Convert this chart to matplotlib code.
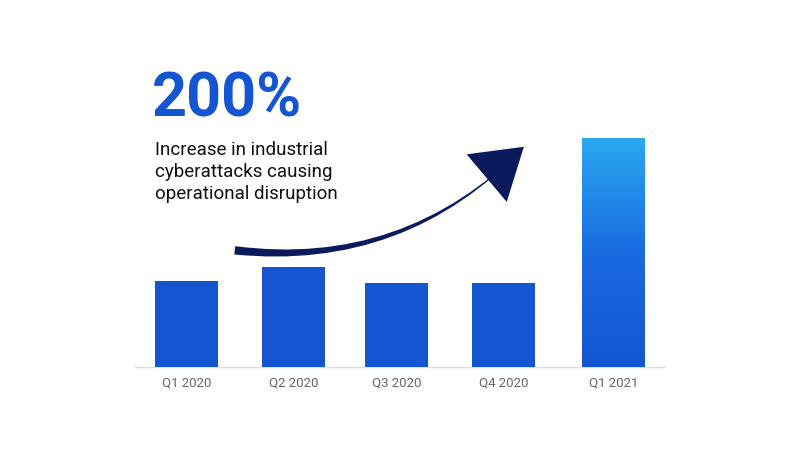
import matplotlib
matplotlib.use("Agg")
import matplotlib.pyplot as plt
import numpy as np
from matplotlib.patches import FancyArrowPatch

categories = ["Q1 2020", "Q2 2020", "Q3 2020", "Q4 2020", "Q1 2021"]
values = [86, 100, 84, 84, 229]

fig = plt.figure(figsize=(8, 4.56), dpi=100)
ax = fig.add_axes([0, 0, 1, 1])
ax.set_xlim(0, 800)
ax.set_ylim(456, 0)
ax.axis("off")

base = 368
xs = [186.5, 293.5, 396.5, 503.5, 613.5]
w = 63
bars = ax.bar(xs, [-v for v in values], bottom=base, width=w, color="#1456d2", zorder=2)
# gradient on last bar
last = bars[-1]
grad = np.linspace(0, 1, 256).reshape(-1, 1)
from matplotlib.colors import LinearSegmentedColormap
cmap = LinearSegmentedColormap.from_list("g", ["#2aa8f0", "#1a6ae0", "#1456d2"])
im = ax.imshow(grad, cmap=cmap, aspect="auto",
               extent=[xs[-1] - w / 2, xs[-1] + w / 2, base, base - values[-1]], zorder=3)
im.set_clip_path(last)
ax.set_xlim(0, 800); ax.set_ylim(456, 0)

ax.plot([135, 665], [base, base], color="#dddddd", lw=1, zorder=1)
for x, c in zip(xs, categories):
    ax.text(x, 383, c, ha="center", va="center", fontsize=9.5, color="#666666", family="Roboto")

ax.text(152, 100, "200%", fontsize=44, fontweight="bold", color="#1456d2",
        family="Roboto", va="center", ha="left")
for i, line in enumerate(["Increase in industrial", "cyberattacks causing", "operational disruption"]):
    ax.text(155, 150 + 22 * i, line, fontsize=13.5, color="#111111", family="Roboto",
            va="center", ha="left")

arr = FancyArrowPatch((232, 251), (526, 146), connectionstyle="arc3,rad=0.25",
                      arrowstyle="wedge,tail_width=6,shrink_factor=0.5",
                      color="#0a1a5c", lw=0, zorder=4)
ax.add_patch(arr)
arr2 = FancyArrowPatch((470, 185), (526, 146), connectionstyle="arc3,rad=0.05",
                       arrowstyle="-|>,head_length=2.5,head_width=1.6",
                       mutation_scale=14, color="#0a1a5c", lw=0, zorder=5)
ax.add_patch(arr2)

fig.savefig("out.png", dpi=100, facecolor="white")
